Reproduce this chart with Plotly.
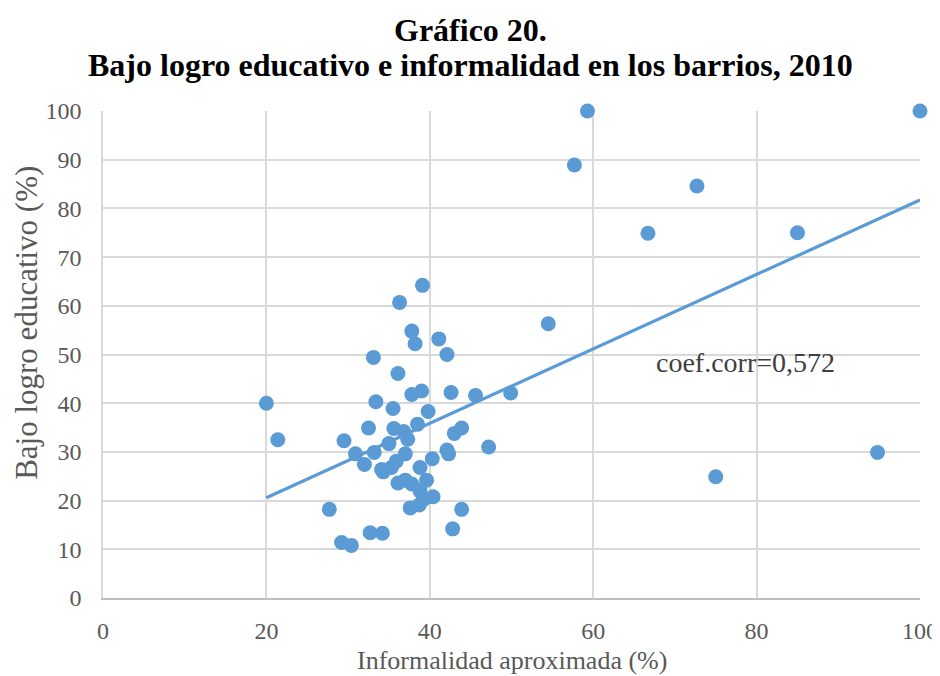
import numpy as np
import plotly.graph_objects as go

# Informalidad aproximada (%) y bajo logro educativo (%) por barrio
informalidad = [39.1, 36.3, 37.8, 38.2, 41.1, 42.1, 33.1, 36.1, 37.8, 39.0,
                42.6, 45.6, 49.9, 20.0, 33.4, 35.5, 39.8, 32.5, 35.6, 36.8,
                38.5, 37.3, 35.0, 43.0, 43.9, 21.4, 29.5, 47.2, 30.9, 33.2,
                37.0, 42.1, 42.3, 32.0, 35.9, 35.3, 34.1, 40.3, 38.8, 34.3,
                36.1, 37.0, 37.8, 39.6, 38.8, 40.4, 37.6, 38.7, 39.2, 27.7,
                43.9, 42.8, 32.7, 34.2, 29.2, 30.4,
                59.3, 57.7, 72.7, 66.7, 85.0, 100.0, 54.5, 94.8, 75.0]
logro = [64.2, 60.7, 54.8, 52.2, 53.2, 50.0, 49.4, 46.1, 41.8, 42.5,
         42.2, 41.6, 42.1, 40.0, 40.3, 38.9, 38.3, 34.9, 34.8, 34.2,
         35.7, 32.6, 31.7, 33.8, 34.9, 32.5, 32.3, 31.0, 29.6, 29.9,
         29.6, 30.4, 29.6, 27.4, 28.1, 26.8, 26.4, 28.6, 26.8, 25.9,
         23.6, 24.2, 23.4, 24.2, 22.0, 20.8, 18.5, 19.1, 20.2, 18.2,
         18.2, 14.2, 13.4, 13.3, 11.4, 10.8,
         100.0, 88.9, 84.6, 74.9, 75.0, 100.0, 56.3, 29.9, 24.9]

azul = "#5B9BD5"
gris = "#595959"
serif = "Liberation Serif, Times New Roman, serif"

# recta de tendencia lineal
pend, corte = np.polyfit(informalidad, logro, 1)
x_tend = np.array([min(informalidad), max(informalidad)])
y_tend = pend * x_tend + corte

fig = go.Figure()
fig.add_trace(go.Scatter(x=x_tend, y=y_tend, mode="lines",
                         line=dict(color=azul, width=3.2), hoverinfo="skip"))
fig.add_trace(go.Scatter(x=informalidad, y=logro, mode="markers",
                         marker=dict(color=azul, size=15), cliponaxis=False))

fig.add_annotation(x=67.4, y=48.3, xanchor="left", yanchor="middle",
                   text="coef.corr=0,572", showarrow=False,
                   font=dict(family=serif, size=28, color="#404040"))

# titulo en dos lineas, centrado en la figura
fig.add_annotation(xref="paper", yref="paper", x=0.4504, y=1.166, xanchor="center", yanchor="middle",
                   text="<b>Gráfico 20.</b>", showarrow=False,
                   font=dict(family=serif, size=32, color="black"))
fig.add_annotation(xref="paper", yref="paper", x=0.4504, y=1.0945, xanchor="center", yanchor="middle",
                   text="<b>Bajo logro educativo e informalidad en los barrios, 2010</b>", showarrow=False,
                   font=dict(family=serif, size=32, color="black"))

# titulos de los ejes
fig.add_annotation(xref="paper", yref="paper", x=-0.093, y=0.565, xanchor="center", yanchor="middle",
                   text="Bajo logro educativo (%)", textangle=-90, showarrow=False,
                   font=dict(family=serif, size=31, color=gris))
fig.add_annotation(xref="paper", yref="paper", x=0.5006, y=-0.129, xanchor="center", yanchor="middle",
                   text="Informalidad aproximada (%)", showarrow=False,
                   font=dict(family=serif, size=26, color=gris))

fig.update_layout(
    width=932, height=676,
    margin=dict(l=95, r=20, t=103, b=86),
    paper_bgcolor="white", plot_bgcolor="white",
    showlegend=False,
    font=dict(family=serif, color=gris),
)
fig.update_xaxes(range=[0, 100], dtick=20, showgrid=True, gridcolor="#D9D9D9", gridwidth=1.5,
                 zeroline=False, showline=True, linecolor="#BFBFBF", linewidth=1.5,
                 automargin=False, ticks="", ticklabelstandoff=10, ticklabeloverflow="allow",
                 tickfont=dict(size=24, color=gris))
fig.update_yaxes(range=[0, 100], dtick=10, showgrid=True, gridcolor="#D9D9D9", gridwidth=1.5,
                 zeroline=False, showline=True, linecolor="#D9D9D9", linewidth=1.5,
                 automargin=False, ticks="", ticklabelstandoff=15,
                 tickfont=dict(size=24, color=gris))

fig.write_html("out.html")
